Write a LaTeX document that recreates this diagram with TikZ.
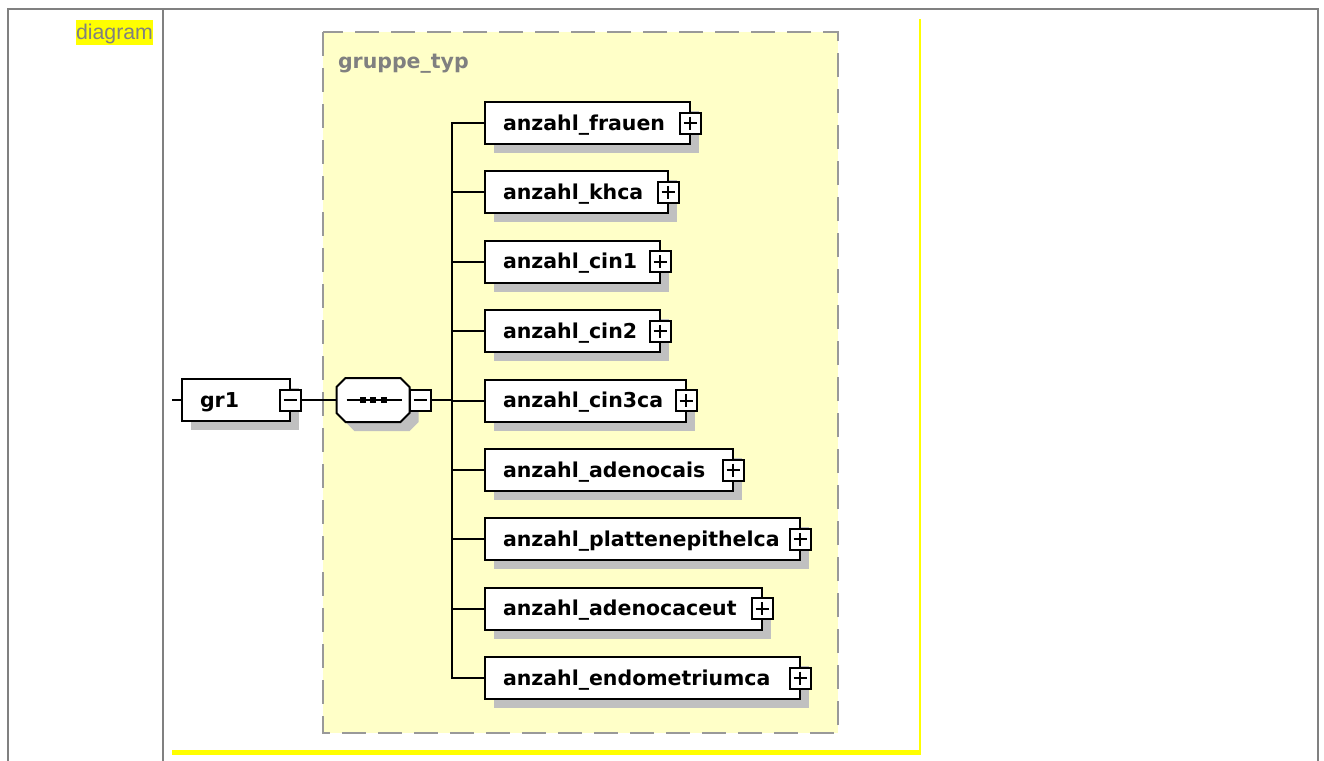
\documentclass[tikz,border=0pt]{standalone}
\usepackage{fontspec}
\setmainfont{DejaVu Sans}
\newfontfamily\arialfont{Liberation Sans}
\usetikzlibrary{positioning,shadows}
\definecolor{framegray}{HTML}{808080}
\definecolor{groupfill}{HTML}{FFFFC8}
\definecolor{groupline}{HTML}{999999}
\definecolor{shadowgray}{HTML}{C0C0C0}
\definecolor{marker}{HTML}{FFFF00}

\begin{document}
\begin{tikzpicture}[x=1pt,y=-1pt,every node/.append style={outer sep=0pt},
  elem/.style={draw, fill=white, line width=2pt, minimum height=42pt, inner xsep=18pt, inner ysep=0pt,
    text height=16pt, text depth=2pt, align=left, anchor=west, font=\fontsize{20.5}{24}\selectfont\bfseries,
    drop shadow={shadow xshift=9pt, shadow yshift=-9pt, fill=shadowgray, opacity=1}},
  pm/.style={draw, fill=white, line width=2pt, minimum size=21pt, inner sep=0pt},
  minusbox/.style={pm, path picture={\draw[line width=2pt] ([xshift=4pt]path picture bounding box.west) -- ([xshift=-4pt]path picture bounding box.east);}},
  plusbox/.style={pm, path picture={\draw[line width=2pt] ([xshift=4pt]path picture bounding box.west) -- ([xshift=-4pt]path picture bounding box.east)
    ([yshift=-4pt]path picture bounding box.north) -- ([yshift=4pt]path picture bounding box.south);}},
  seqbox/.style={minimum width=73pt, minimum height=44pt, inner sep=0pt},
  octo/.style={line width=2pt},
  conn/.style={line width=2pt}]
\useasboundingbox (0,0) rectangle (1324,760);

% table frame
\draw[framegray, line width=2pt] (8,762) -- (8,9) -- (1318,9) -- (1318,762);
\draw[framegray, line width=2pt] (163,9) -- (163,762);
\node[fill=marker, text=framegray, inner sep=0pt, text height=20pt, text depth=5pt, anchor=north east,
  font=\arialfont\fontsize{21.3}{24}\selectfont] (lbl) at (153,20) {diagram};
\draw[marker, line width=1.5pt] (920,19) -- (920,752);
\draw[marker, line width=5pt] (172,752.5) -- (921,752.5);

% group
\draw[groupline, fill=groupfill, line width=2pt, dash pattern=on 24pt off 12pt] (323,32) rectangle (838,733);
\node[anchor=base west, text=framegray, inner sep=0pt, font=\fontsize{20.5}{24}\selectfont\bfseries] (grp) at (338,68) {gruppe\_typ};

% elements
\node[elem, text width=169pt] (F) at (485,123) {anzahl\_frauen};
\node[elem, text width=147pt, below=27.4pt of F.south west, anchor=north west] (K) {anzahl\_khca};
\node[elem, text width=139pt, below=27.4pt of K.south west, anchor=north west] (C1) {anzahl\_cin1};
\node[elem, text width=139pt, below=27.4pt of C1.south west, anchor=north west] (C2) {anzahl\_cin2};
\node[elem, text width=165pt, below=27.4pt of C2.south west, anchor=north west] (C3) {anzahl\_cin3ca};
\node[elem, text width=212pt, below=27.4pt of C3.south west, anchor=north west] (AI) {anzahl\_adenocais};
\node[elem, text width=279pt, below=27.4pt of AI.south west, anchor=north west] (P) {anzahl\_plattenepithelca};
\node[elem, text width=241pt, below=27.4pt of P.south west, anchor=north west] (AC) {anzahl\_adenocaceut};
\node[elem, text width=279pt, below=27.4pt of AC.south west, anchor=north west] (E) {anzahl\_endometriumca};
\foreach \n in {F,K,C1,C2,C3,AI,P,AC,E}
  \node[plusbox] (\n p) at (\n.east) {};

% gr1 and sequence
\node[elem, text width=72pt] (gr) at (182,400) {gr1};
\node[minusbox] (grm) at (gr.east) {};
\node[seqbox, right=36pt of grm] (seq) {};
\fill[shadowgray] ([shift={(18,9)}]seq.north west) -- ([shift={(0,9)}]seq.north east)
  -- ([shift={(9,18)}]seq.north east) -- ([shift={(9,0)}]seq.south east)
  -- ([shift={(0,9)}]seq.south east) -- ([shift={(18,9)}]seq.south west)
  -- ([shift={(9,0)}]seq.south west) -- ([shift={(9,18)}]seq.north west) -- cycle;
\filldraw[octo, fill=white] ([xshift=9pt]seq.north west) -- ([xshift=-9pt]seq.north east)
  -- ([yshift=-9pt]seq.north east) -- ([yshift=9pt]seq.south east)
  -- ([xshift=-9pt]seq.south east) -- ([xshift=9pt]seq.south west)
  -- ([yshift=9pt]seq.south west) -- ([yshift=-9pt]seq.north west) -- cycle;
\node[minusbox, right=0pt of seq] (seqm) {};
\draw[conn] ([xshift=10pt]seq.west) -- ([xshift=-8pt]seq.east);
\foreach \d in {-10.5,0,10.5}
  \fill ([xshift=\d pt]seq.center) ++(-3,-3) rectangle ++(6,6);
\coordinate[left=10pt of gr.west] (in);
\coordinate[right=21pt of seqm.east] (fork);

\draw[conn] (in) -- (gr);
\draw[conn] (grm) -- (seq);
\draw[conn] (seqm) -- (fork);
\foreach \n in {F,K,C1,C2,C3,AI,P,AC,E}
  \draw[conn] (\n.west) -| (fork);
\end{tikzpicture}
\end{document}
